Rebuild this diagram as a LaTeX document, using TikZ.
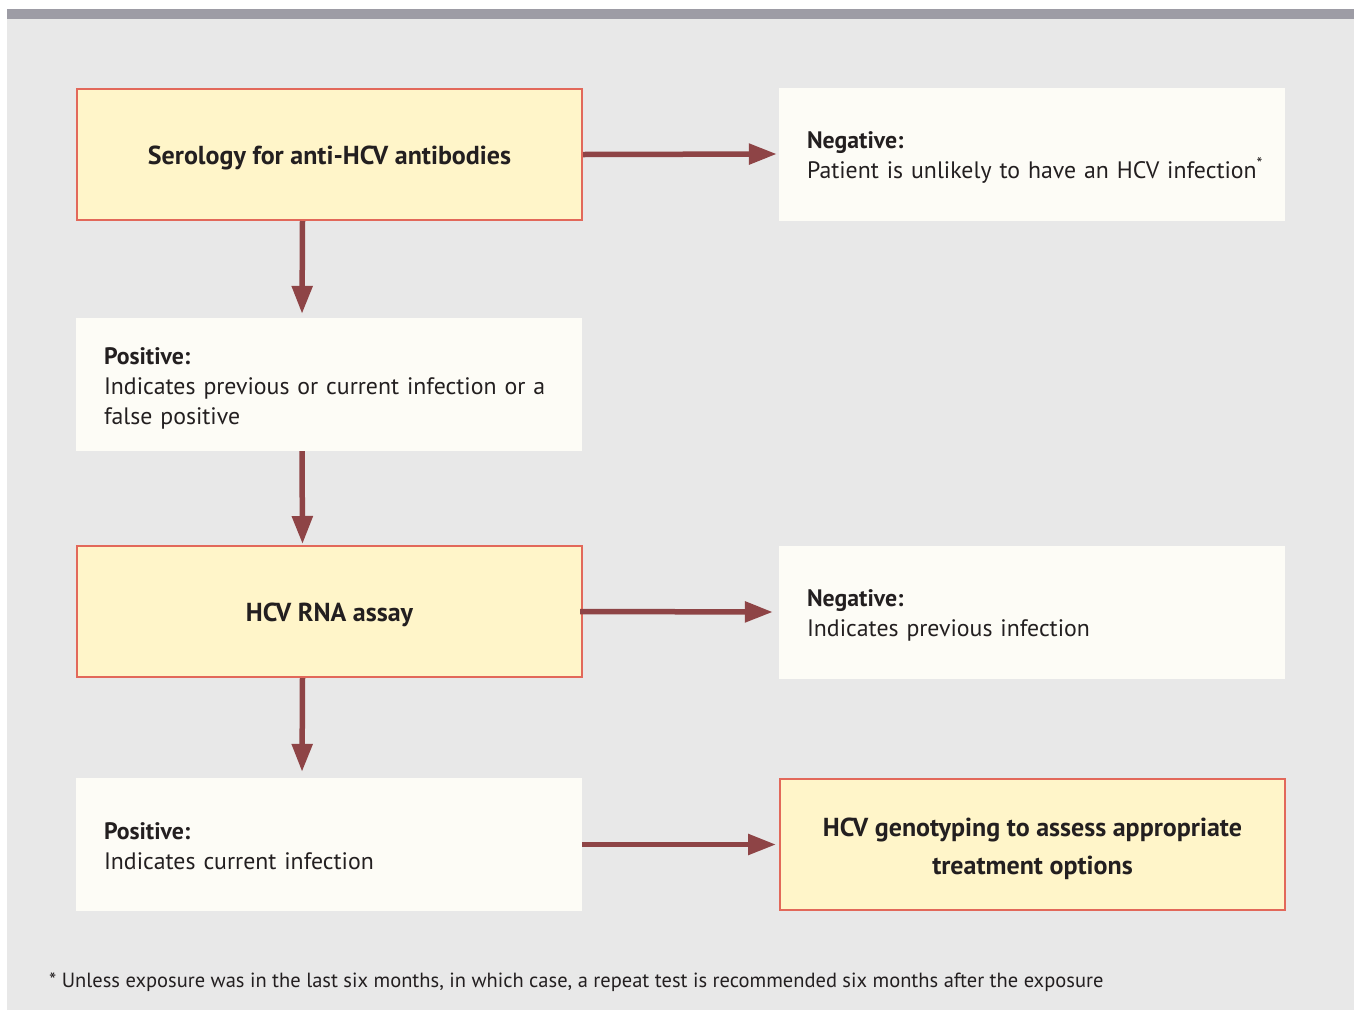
\documentclass[tikz,border=0pt]{standalone}
\usepackage{fontspec}
\setmainfont{PT Sans}
\usetikzlibrary{arrows.meta}
\definecolor{bg}{HTML}{E8E8E8}
\definecolor{topbar}{HTML}{9D9CA5}
\definecolor{yel}{HTML}{FFF5C9}
\definecolor{bord}{HTML}{E2685A}
\definecolor{wht}{HTML}{FDFCF6}
\definecolor{arr}{HTML}{8E4446}
\definecolor{txt}{HTML}{231F20}
\tikzset{
  ybox/.style={draw=bord, fill=yel, line width=2pt, minimum width=505pt, minimum height=131pt,
    align=center, inner sep=0pt, text=txt, font=\fontsize{26}{38}\selectfont\bfseries},
  yone/.style={ybox, text height=25pt, text depth=6pt},
  wbox/.style={fill=wht, minimum width=506pt, minimum height=133pt, text width=450pt,
    inner xsep=28pt, inner ysep=0pt, align=left, text=txt, text height=24pt,
    font=\fontsize{23.8}{30}\selectfont},
  flowarrow/.style={draw=arr, line width=5.5pt, -{Triangle[length=28pt,width=20pt]}, shorten >=2pt}
}
\begin{document}
\begin{tikzpicture}[x=1pt,y=-1pt]
\useasboundingbox (0,0) rectangle (1354,1010);
\fill[white] (0,0) rectangle (1354,1010);
\fill[bg] (7,19) rectangle (1354,1010);
\fill[topbar] (7,8.5) rectangle (1354,19);

\node[yone] (sero) at (329.5,154.5) {Serology for anti-HCV antibodies};
\node[wbox] (neg1) at (1032,154) {\textbf{Negative:}\\\mbox{Patient is unlikely to have an HCV infection\textsuperscript{*}}};
\node[wbox] (pos1) at (329,384.5) {\textbf{Positive:}\\Indicates previous or current infection or a\\false positive};
\node[yone] (rna) at (329.5,611.5) {HCV RNA assay};
\node[wbox] (neg2) at (1032,612) {\textbf{Negative:}\\Indicates previous infection};
\node[wbox, text height=20pt] (pos2) at (329,844.5) {\textbf{Positive:}\\Indicates current infection};
\node[ybox, text height=66pt] (geno) at (1032.5,844.5) {HCV genotyping to assess appropriate\\treatment options};

\node[anchor=base west, inner sep=0pt, text=txt, font=\fontsize{20.5}{24}\selectfont] (foot) at (49,987)
  {* Unless exposure was in the last six months, in which case, a repeat test is recommended six months after the exposure};

\draw[flowarrow] (sero.east) -- (neg1.west);
\draw[flowarrow, shorten >=4pt] ([xshift=-27pt]sero.south) -- ([xshift=-27pt]pos1.north);
\draw[flowarrow, shorten >=1pt] ([xshift=-27pt]pos1.south) -- ([xshift=-27pt]rna.north);
\draw[flowarrow, shorten >=6pt] ([xshift=-3pt]rna.east) -- (neg2.west);
\draw[flowarrow, shorten >=6pt] ([xshift=-27pt]rna.south) -- ([xshift=-27pt]pos2.north);
\draw[flowarrow, shorten >=3pt] (pos2.east) -- (geno.west);
\end{tikzpicture}
\end{document}
